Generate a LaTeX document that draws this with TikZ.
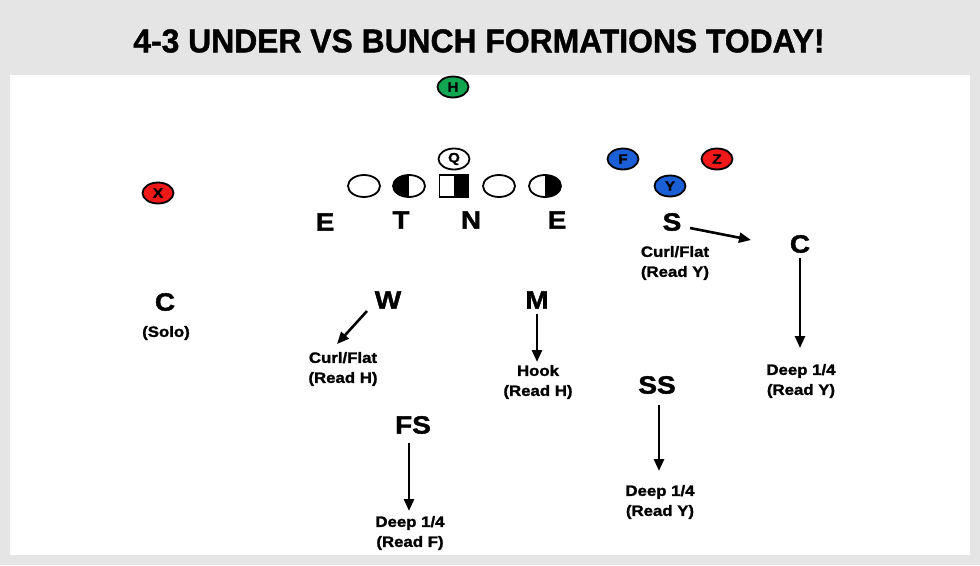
\documentclass[tikz,border=0pt]{standalone}
\usepackage{fontspec}
\setmainfont{Liberation Sans}
\newfontfamily\titlefont[BoldFeatures={FakeBold=1.2,FakeStretch=0.965}]{Liberation Sans}
\newfontfamily\heavyfont[BoldFeatures={FakeBold=1.6,FakeStretch=1.12}]{Liberation Sans}
\usetikzlibrary{arrows.meta,positioning,shapes.geometric}
\definecolor{pagegray}{HTML}{E5E5E5}
\definecolor{offred}{HTML}{F01818}
\definecolor{offblue}{HTML}{1A5FD6}
\definecolor{offgreen}{HTML}{10A550}

\begin{document}
\begin{tikzpicture}[x=1pt, y=-1pt,
  player/.style={ellipse, draw=black, line width=1.8pt, fill=white,
                 minimum width=31pt, minimum height=21pt, inner sep=0pt,
                 font=\heavyfont\bfseries\fontsize{13.5}{13.5}\selectfont},
  lineman/.style={player, minimum width=32pt, minimum height=22pt},
  left dark/.style={path picture={\fill[black] (path picture bounding box.south west)
                    rectangle (path picture bounding box.north);}},
  right dark/.style={path picture={\fill[black] (path picture bounding box.south east)
                     rectangle (path picture bounding box.north);}},
  snapper/.style={rectangle, draw=black, line width=1.8pt, fill=white,
                  minimum width=29pt, minimum height=22pt, inner sep=0pt, right dark},
  defender/.style={font=\heavyfont\bfseries\fontsize{25}{25}\selectfont, inner sep=1pt},
  note/.style={font=\heavyfont\bfseries\fontsize{15}{20}\selectfont, align=center, inner sep=1pt},
  route/.style={-{Triangle[length=12pt,width=10pt]}, line width=2.6pt},
]
  % page and field
  \fill[pagegray] (0,0) rectangle (980,565);
  \fill[white] (10,75) rectangle (970,555);
  \useasboundingbox (0,0) rectangle (980,565);
  \node[font=\titlefont\bfseries\fontsize{33}{33}\selectfont] (title) at (479,41)
    {4-3 UNDER VS BUNCH FORMATIONS TODAY!};

  % offense
  \node[player, fill=offgreen] (H) at (453,87) {H};
  \node[player] (Q) at (454,159) {Q};
  \node[lineman] (lt) at (364,186) {};
  \node[lineman, left dark] (lg) at (409,186) {};
  \node[snapper] (ctr) at (454,186) {};
  \node[lineman] (rg) at (499,186) {};
  \node[lineman, right dark] (rt) at (545,186) {};
  \node[player, fill=offblue] (F) at (623,159) {F};
  \node[player, fill=offred] (Z) at (717,159) {Z};
  \node[player, fill=offblue] (Y) at (670,186) {Y};
  \node[player, fill=offred] (X) at (158,193) {X};

  % defensive front
  \node[defender] (de1) at (325,222) {E};
  \node[defender] (dt) at (401,220) {T};
  \node[defender] (nt) at (471,220) {N};
  \node[defender] (de2) at (557,220) {E};

  % linebackers and secondary
  \node[defender] (S) at (672,222) {S};
  \node[note] (Snote) at (675,263) {Curl/Flat\\(Read Y)};
  \coordinate (Send) at (751,240);
  \draw[route] (690,228) -- (Send);

  \node[defender] (Cr) at (800,244) {C};
  \node[note] (Crnote) at (801,381) {Deep 1/4\\(Read Y)};
  \draw[route] (Cr.south) ++(0,4) -- (800,348);

  \node[defender] (Cl) at (165,302) {C};
  \node[note] (Clnote) at (166,333) {(Solo)};

  \node[defender] (W) at (388,300) {W};
  \node[note] (Wnote) at (343,369) {Curl/Flat\\(Read H)};
  \draw[route] (367,311) -- (337,344);

  \node[defender] (M) at (537,300) {M};
  \node[note] (Mnote) at (538,382) {Hook\\(Read H)};
  \draw[route] (M.south) ++(0,4) -- (537,362);

  \node[defender] (SS) at (657,385) {SS};
  \node[note] (SSnote) at (660,502) {Deep 1/4\\(Read Y)};
  \draw[route] (659,405) -- (659,471);

  \node[defender] (FS) at (413,425) {FS};
  \node[note] (FSnote) at (410,533) {Deep 1/4\\(Read F)};
  \draw[route] (409,443) -- (409,511);
\end{tikzpicture}
\end{document}
